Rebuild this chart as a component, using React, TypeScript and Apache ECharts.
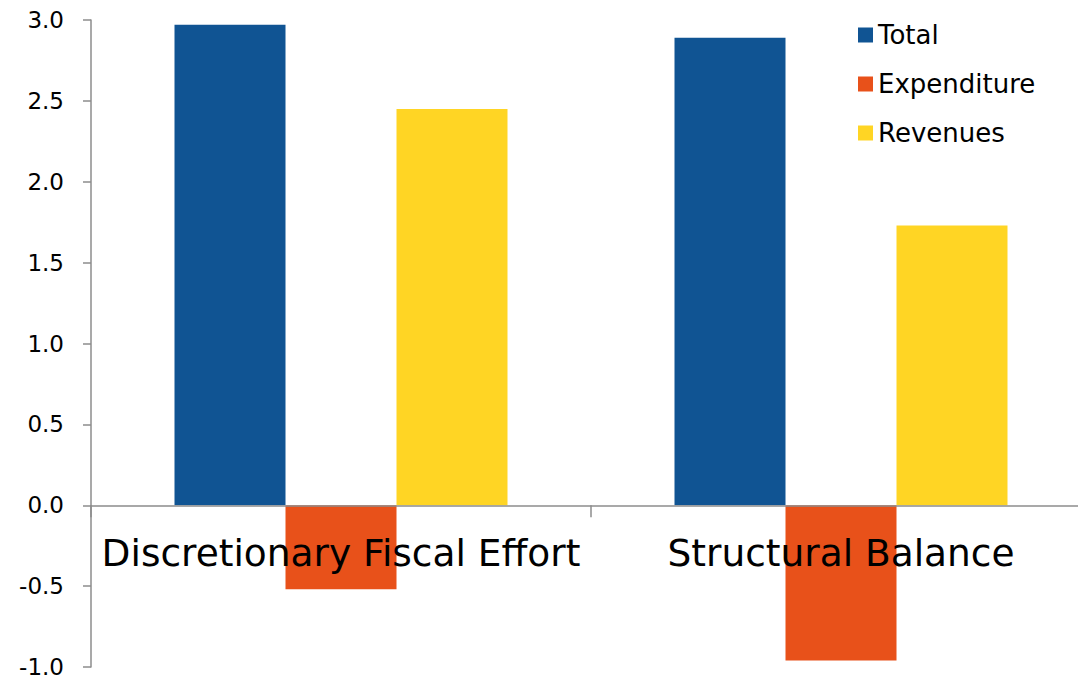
import React, { useEffect, useRef } from "react";
import * as echarts from "echarts";

// Fiscal effort decomposition, percentage points
const categories = ["Discretionary Fiscal Effort", "Structural Balance"];
const totalValues = [2.97, 2.89];
const expenditureValues = [-0.52, -0.96];
const revenueValues = [2.45, 1.73];
const seriesNames = ["Total", "Expenditure", "Revenues"];
const seriesColors = ["#105493", "#E8511A", "#FFD524"];

const FONT = "DejaVu Sans, Verdana, sans-serif";

export default function App() {
  const ref = useRef<HTMLDivElement>(null);

  useEffect(() => {
    if (!ref.current) return;
    const chart = echarts.init(ref.current, undefined, { renderer: "svg" });
    const valueSets = [totalValues, expenditureValues, revenueValues];
    chart.setOption({
      animation: false,
      backgroundColor: "#ffffff",
      textStyle: { fontFamily: FONT },
      grid: {
        left: 91,
        top: 20,
        bottom: 10,
        width: 1000,
        containLabel: false,
        outerBoundsMode: "none",
      },
      legend: {
        orient: "vertical",
        left: 853,
        top: 17,
        icon: "rect",
        itemWidth: 15,
        itemHeight: 15,
        itemGap: 23,
        textStyle: { fontFamily: FONT, fontSize: 26, color: "#000000" },
        data: seriesNames,
      },
      xAxis: {
        type: "category",
        data: categories,
        z: 5,
        axisLine: { onZero: true, lineStyle: { color: "#8c8c8c", width: 1.5 } },
        axisTick: { show: true, length: 12, lineStyle: { color: "#8c8c8c", width: 1.5 } },
        axisLabel: {
          fontFamily: FONT,
          fontSize: 37.5,
          color: "#000000",
          // category names sit just under the zero line, over the negative bars
          margin: -133,
          interval: 0,
          hideOverlap: false,
        },
      },
      yAxis: {
        type: "value",
        min: -1,
        max: 3,
        interval: 0.5,
        splitLine: { show: false },
        axisLine: { show: true, lineStyle: { color: "#8c8c8c", width: 1.5 } },
        axisTick: { show: true, length: 8, lineStyle: { color: "#8c8c8c", width: 1.5 } },
        axisLabel: {
          fontFamily: FONT,
          fontSize: 23,
          color: "#000000",
          margin: 27,
          formatter: (v: number) => v.toFixed(1),
        },
      },
      series: seriesNames.map((name, i) => ({
        name,
        type: "bar",
        data: valueSets[i],
        barWidth: 111,
        barGap: "0%",
        itemStyle: { color: seriesColors[i] },
      })),
    });
    return () => chart.dispose();
  }, []);

  return (
    <div
      ref={ref}
      style={{ position: "absolute", left: 0, top: 0, width: 1078, height: 677, background: "#fff" }}
    />
  );
}
